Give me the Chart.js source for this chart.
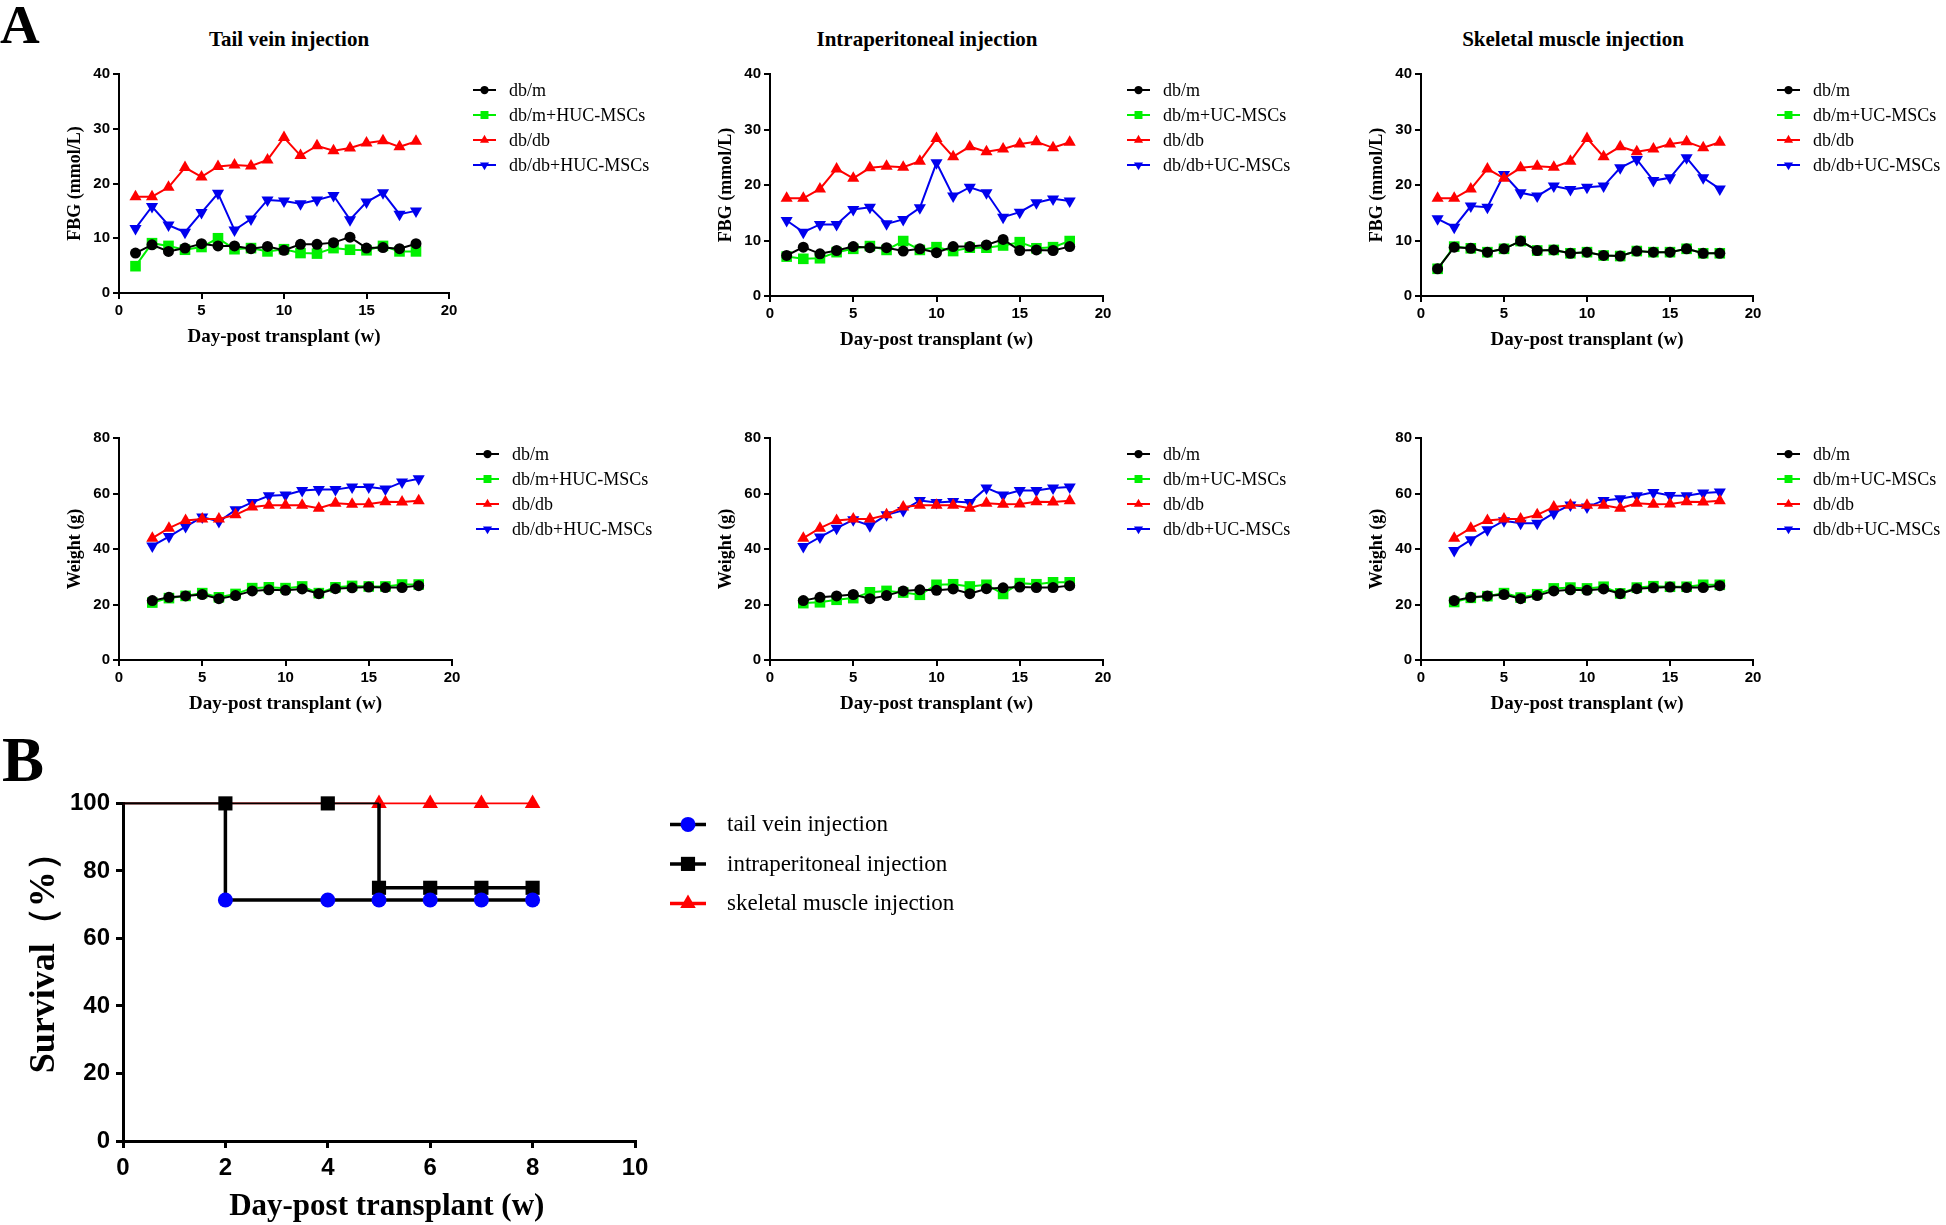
<!DOCTYPE html>
<html>
<head>
<meta charset="utf-8">
<script src="https://cdn.jsdelivr.net/npm/chart.js@4.4.1/dist/chart.umd.min.js"></script>
<style>
  body { margin: 0; background: #fff; width: 1946px; height: 1225px; position: relative; overflow: hidden; }
  canvas { position: absolute; }
  .lbl { position: absolute; font-family: 'Liberation Serif', 'Times New Roman', serif; font-weight: bold; color: #000; white-space: nowrap; line-height: 1; }
  .ttl { font-size: 21px; transform: translate(-50%, -50%); }
</style>
</head>
<body>
<div class="lbl" style="left:0px; top:-3px; font-size:55px;">A</div>
<div class="lbl" style="left:2px; top:729px; font-size:63px;">B</div>
<div class="lbl ttl" style="left:289px; top:39px;">Tail vein injection</div>
<div class="lbl ttl" style="left:927px; top:39px;">Intraperitoneal injection</div>
<div class="lbl ttl" style="left:1573px; top:39px;">Skeletal muscle injection</div>

<canvas id="fbg-tail"></canvas>
<canvas id="fbg-ip"></canvas>
<canvas id="fbg-sm"></canvas>
<canvas id="wt-tail"></canvas>
<canvas id="wt-ip"></canvas>
<canvas id="wt-sm"></canvas>
<canvas id="survival"></canvas>

<script>
// --- data ---
const weeksFbg = [1, 2, 3, 4, 5, 6, 7, 8, 9, 10, 11, 12, 13, 14, 15, 16, 17, 18];
const weeksWeight = [2, 3, 4, 5, 6, 7, 8, 9, 10, 11, 12, 13, 14, 15, 16, 17, 18];

// FBG (mmol/L); db/db control is the same group in all three panels
const fbgDbdb = [17.6, 17.6, 19.3, 22.9, 21.2, 23.1, 23.4, 23.2, 24.3, 28.4, 25.1, 26.9, 26.0, 26.5, 27.4, 27.8, 26.7, 27.7];

const fbgTailDbm = [7.3, 8.8, 7.6, 8.2, 9.0, 8.6, 8.6, 8.1, 8.5, 7.8, 8.9, 8.9, 9.2, 10.2, 8.2, 8.3, 8.1, 9.0];
const fbgTailDbmMsc = [4.9, 9.1, 8.6, 7.9, 8.4, 10.0, 8.0, 8.2, 7.6, 8.0, 7.3, 7.2, 8.2, 7.9, 7.8, 8.6, 7.6, 7.6];
const fbgTailDbdbMsc = [11.8, 15.8, 12.4, 11.1, 14.7, 18.2, 11.5, 13.5, 17.0, 16.8, 16.3, 17.0, 17.8, 13.4, 16.6, 18.3, 14.4, 15.0];

const fbgIpDbm = [7.3, 8.8, 7.6, 8.2, 8.9, 8.7, 8.7, 8.1, 8.5, 7.8, 8.9, 8.9, 9.2, 10.2, 8.2, 8.3, 8.2, 8.9];
const fbgIpDbmMsc = [7.1, 6.7, 6.8, 7.9, 8.5, 9.0, 8.3, 9.9, 8.3, 8.8, 8.1, 8.7, 8.7, 9.1, 9.7, 8.6, 8.8, 9.9];
const fbgIpDbdbMsc = [13.6, 11.5, 12.9, 12.9, 15.6, 16.0, 13.0, 13.8, 15.9, 24.0, 18.0, 19.6, 18.6, 14.2, 15.1, 16.8, 17.5, 17.1];

const fbgSmDbm = [4.9, 8.8, 8.6, 7.9, 8.5, 9.9, 8.2, 8.3, 7.7, 7.9, 7.3, 7.2, 8.1, 7.9, 7.9, 8.5, 7.7, 7.7];
const fbgSmDbmMsc = [4.9, 8.9, 8.6, 7.9, 8.5, 9.9, 8.2, 8.3, 7.7, 7.9, 7.3, 7.2, 8.1, 7.9, 7.9, 8.5, 7.7, 7.7];
const fbgSmDbdbMsc = [13.9, 12.4, 16.2, 16.0, 21.9, 18.6, 18.0, 19.8, 19.2, 19.6, 19.8, 23.1, 24.6, 20.8, 21.3, 24.9, 21.3, 19.3];

// Weight (g)
const weightDbm = [21.4, 22.6, 23.1, 23.6, 22.1, 23.2, 24.9, 25.3, 25.1, 25.6, 23.9, 25.7, 26.0, 26.3, 26.1, 26.1, 26.8];
const weightDbdb = [43.9, 47.5, 50.3, 50.8, 50.8, 52.3, 55.1, 55.8, 55.8, 55.8, 54.7, 56.5, 56.1, 56.2, 57.0, 56.9, 57.4];

const weightTailDbmMsc = [20.7, 22.3, 23.1, 24.1, 22.6, 23.8, 25.9, 26.2, 25.9, 26.5, 24.1, 26.2, 26.7, 26.5, 26.5, 27.2, 27.2];
const weightTailDbdbMsc = [41.1, 44.5, 48.1, 51.5, 49.9, 54.1, 56.8, 59.2, 59.5, 61.1, 61.4, 61.4, 62.3, 62.3, 61.6, 64.1, 65.3];

const weightIpDbmMsc = [20.5, 20.8, 21.7, 22.3, 24.4, 24.9, 24.3, 23.5, 27.1, 27.3, 26.5, 27.1, 23.8, 27.7, 27.3, 28.0, 28.0];
const weightIpDbdbMsc = [40.9, 44.3, 47.5, 50.5, 48.4, 52.3, 53.9, 57.5, 56.8, 57.1, 56.8, 62.0, 59.5, 61.1, 61.1, 62.0, 62.3];

const weightSmDbmMsc = [20.9, 22.4, 23.0, 24.1, 22.5, 23.7, 25.8, 26.1, 25.8, 26.4, 24.0, 26.1, 26.6, 26.4, 26.4, 27.1, 27.1];
const weightSmDbdbMsc = [39.5, 43.3, 46.9, 50.2, 49.3, 49.3, 52.9, 55.9, 55.1, 57.5, 58.1, 59.2, 60.4, 59.3, 59.2, 60.2, 60.5];

// Survival (%), Kaplan-Meier steps; "marked" = a symbol is drawn at that point
const survTailWeeks = [0, 2, 2, 4, 5, 6, 7, 8];
const survTail = [100, 100, 71.4, 71.4, 71.4, 71.4, 71.4, 71.4];
const survTailMarked = [false, false, true, true, true, true, true, true];
const survIpWeeks = [0, 2, 4, 5, 5, 6, 7, 8];
const survIp = [100, 100, 100, 100, 75, 75, 75, 75];
const survIpMarked = [false, true, true, false, true, true, true, true];
const survSmWeeks = [0, 5, 6, 7, 8];
const survSm = [100, 100, 100, 100, 100];
const survSmMarked = [false, true, true, true, true];

const fbgTicks = { min: 0, max: 40, step: 10 };
const weightTicks = { min: 0, max: 80, step: 20 };
const weekTicks = { min: 0, max: 20, step: 5 };
const survTicks = { min: 0, max: 100, step: 20 };
const survWeekTicks = { min: 0, max: 10, step: 2 };

// --- styles ---
const SERIF = "'Liberation Serif', 'Times New Roman', serif";
const SANS = "'Liberation Sans', Arial, sans-serif";
const NARROW = "'Liberation Sans Narrow', 'Liberation Sans', Arial, sans-serif";

const STYLE = {
    dbm:     { color: '#000000', shape: 'circle',   r: 5.5, rot: 0 },
    dbmMsc:  { color: '#00f000', shape: 'rect',     r: 7.5, rot: 0 },
    dbdb:    { color: '#ff0000', shape: 'triangle', r: 7,   rot: 0 },
    dbdbMsc: { color: '#0000ee', shape: 'triangle', r: 7,   rot: 180 },
};

function drawMarker(ctx, shape, x, y, r, rot) {
    ctx.beginPath();
    if (shape === 'circle') {
        ctx.arc(x, y, r, 0, Math.PI * 2);
    } else if (shape === 'rect') {
        const s = r * Math.SQRT1_2;
        ctx.rect(x - s, y - s, 2 * s, 2 * s);
    } else {
        let a = rot * Math.PI / 180;
        for (let k = 0; k < 3; k++) {
            const px = x + Math.sin(a) * r, py = y - Math.cos(a) * r;
            if (k) ctx.lineTo(px, py); else ctx.moveTo(px, py);
            a += 2 * Math.PI / 3;
        }
        ctx.closePath();
    }
    ctx.fill();
}

// legend to the right of the plot: short line with the symbol, then the label
const sideLegend = {
    id: 'sideLegend',
    afterDraw(chart, args, o) {
        const { ctx, chartArea } = chart;
        ctx.save();
        ctx.font = o.font;
        ctx.textBaseline = 'middle';
        chart.data.datasets.forEach((ds, i) => {
            const y = chartArea.top + o.top + i * o.gap;
            const x0 = chartArea.right + o.left;
            ctx.strokeStyle = ds.borderColor;
            ctx.lineWidth = o.lineWidth;
            ctx.beginPath();
            ctx.moveTo(x0, y);
            ctx.lineTo(x0 + o.len, y);
            ctx.stroke();
            ctx.fillStyle = ds.pointBackgroundColor;
            drawMarker(ctx, ds.pointStyle, x0 + o.len / 2, y, ds.legendR, ds.pointRotation || 0);
            ctx.fillStyle = '#000';
            ctx.fillText(ds.label, chartArea.right + o.textLeft, y + 1);
        });
        ctx.restore();
    }
};

function series(label, xs, ys, st) {
    return {
        label,
        data: xs.map((x, i) => ({ x, y: ys[i] })),
        borderColor: st.color,
        backgroundColor: st.color,
        borderWidth: 2,
        pointStyle: st.shape,
        pointRadius: st.r,
        pointRotation: st.rot,
        pointBackgroundColor: st.color,
        pointBorderColor: st.color,
        pointBorderWidth: 0,
        tension: 0,
        clip: false,
        legendR: st.r * 0.75,
    };
}

function axis(t, title, look, titleFont, fitFn) {
    return {
        type: 'linear',
        min: t.min, max: t.max,
        afterFit: fitFn,
        ticks: { stepSize: t.step, color: '#000', font: look.tickFont, padding: look.tickPad },
        grid: { drawOnChartArea: false, drawTicks: true, tickLength: look.tickLen, tickColor: '#000', tickWidth: look.lw, color: '#000', lineWidth: look.lw },
        border: { display: true, color: '#000', width: look.lw },
        title: { display: true, text: title, color: '#000', font: titleFont, padding: 0 },
    };
}

function makeChart(id, plot, lay, look, xTicks, yTicks, xTitle, yTitle, datasets, legend) {
    const cv = document.getElementById(id);
    const w = plot.r - plot.l + lay.yW + lay.padRight;
    const h = plot.b - plot.t + lay.padTop + lay.xH;
    cv.width = w; cv.height = h;
    cv.style.width = w + 'px'; cv.style.height = h + 'px';
    cv.style.left = (plot.l - lay.yW) + 'px';
    cv.style.top = (plot.t - lay.padTop) + 'px';
    return new Chart(cv.getContext('2d'), {
        type: 'line',
        data: { datasets },
        options: {
            responsive: false,
            animation: false,
            devicePixelRatio: 1,
            layout: { padding: { top: lay.padTop, right: lay.padRight, left: 0, bottom: 0 } },
            plugins: { legend: { display: false }, tooltip: { enabled: false }, sideLegend: legend },
            scales: {
                x: { ...axis(xTicks, xTitle, look, look.xTitleFont, s => { s.height = lay.xH; }), position: 'bottom' },
                y: { ...axis(yTicks, yTitle, look, look.yTitleFont, s => { s.width = lay.yW; }), position: 'left' },
            }
        },
        plugins: [sideLegend]
    });
}

const smallLook = {
    tickFont: { family: SANS, weight: 'bold', size: 15 },
    xTitleFont: { family: SERIF, weight: 'bold', size: 19 },
    yTitleFont: { family: SERIF, weight: 'bold', size: 18 },
    tickPad: 3, tickLen: 6, lw: 2,
};
const smallLegend = { font: '18px ' + SERIF, left: 24, len: 23, textLeft: 60, top: 16, gap: 25, lineWidth: 2 };

function groupSets(xs, dbm, dbmMsc, dbdb, dbdbMsc, mscName) {
    return [
        series('db/m', xs, dbm, STYLE.dbm),
        series('db/m+' + mscName, xs, dbmMsc, STYLE.dbmMsc),
        series('db/db', xs, dbdb, STYLE.dbdb),
        series('db/db+' + mscName, xs, dbdbMsc, STYLE.dbdbMsc),
    ];
}

const dayTitle = 'Day-post transplant (w)';
const topLay = { yW: 54, padTop: 20, xH: 55, padRight: 245 };
const edgeLay = { yW: 54, padTop: 20, xH: 55, padRight: 193 };

makeChart('fbg-tail', { l: 119, t: 74, r: 449, b: 293 }, topLay, smallLook, weekTicks, fbgTicks, dayTitle, 'FBG (mmol/L)',
    groupSets(weeksFbg, fbgTailDbm, fbgTailDbmMsc, fbgDbdb, fbgTailDbdbMsc, 'HUC-MSCs'), smallLegend);
makeChart('fbg-ip', { l: 770, t: 74, r: 1103, b: 296 }, topLay, smallLook, weekTicks, fbgTicks, dayTitle, 'FBG (mmol/L)',
    groupSets(weeksFbg, fbgIpDbm, fbgIpDbmMsc, fbgDbdb, fbgIpDbdbMsc, 'UC-MSCs'), smallLegend);
makeChart('fbg-sm', { l: 1421, t: 74, r: 1753, b: 296 }, edgeLay, smallLook, weekTicks, fbgTicks, dayTitle, 'FBG (mmol/L)',
    groupSets(weeksFbg, fbgSmDbm, fbgSmDbmMsc, fbgDbdb, fbgSmDbdbMsc, 'UC-MSCs'), smallLegend);

makeChart('wt-tail', { l: 119, t: 438, r: 452, b: 660 }, topLay, smallLook, weekTicks, weightTicks, dayTitle, 'Weight (g)',
    groupSets(weeksWeight, weightDbm, weightTailDbmMsc, weightDbdb, weightTailDbdbMsc, 'HUC-MSCs'), smallLegend);
makeChart('wt-ip', { l: 770, t: 438, r: 1103, b: 660 }, topLay, smallLook, weekTicks, weightTicks, dayTitle, 'Weight (g)',
    groupSets(weeksWeight, weightDbm, weightIpDbmMsc, weightDbdb, weightIpDbdbMsc, 'UC-MSCs'), smallLegend);
makeChart('wt-sm', { l: 1421, t: 438, r: 1753, b: 660 }, edgeLay, smallLook, weekTicks, weightTicks, dayTitle, 'Weight (g)',
    groupSets(weeksWeight, weightDbm, weightSmDbmMsc, weightDbdb, weightSmDbdbMsc, 'UC-MSCs'), smallLegend);

// --- survival panel ---
const thinTop = c => (c.p0.parsed.y === 100 && c.p1.parsed.y === 100) ? 1.6 : 3.5;

function survSeries(label, xs, ys, marked, lineColor, markColor, shape, r) {
    return {
        label,
        data: xs.map((x, i) => ({ x, y: ys[i] })),
        borderColor: lineColor,
        borderWidth: 3.5,
        segment: { borderWidth: thinTop },
        pointStyle: shape,
        pointRadius: c => marked[c.dataIndex] ? r : 0,
        pointBackgroundColor: markColor,
        pointBorderColor: markColor,
        pointBorderWidth: 0,
        tension: 0,
        clip: false,
        legendR: r,
    };
}

makeChart('survival', { l: 123, t: 803, r: 635, b: 1141 }, { yW: 100, padTop: 20, xH: 85, padRight: 365 },
    {
        tickFont: { family: NARROW, weight: 'bold', size: 24 },
        xTitleFont: { family: SERIF, weight: 'bold', size: 31 },
        yTitleFont: { family: SERIF, weight: 'bold', size: 36 },
        tickPad: 6, tickLen: 7, lw: 3,
    },
    survWeekTicks, survTicks, '  ' + dayTitle, '\u3000Survival（%）',
    [
        survSeries('tail vein injection', survTailWeeks, survTail, survTailMarked, '#000000', '#0000ff', 'circle', 7.5),
        survSeries('intraperitoneal injection', survIpWeeks, survIp, survIpMarked, '#000000', '#000000', 'rect', 10),
        survSeries('skeletal muscle injection', survSmWeeks, survSm, survSmMarked, '#ff0000', '#ff0000', 'triangle', 9),
    ],
    { font: '23px ' + SERIF, left: 35, len: 36, textLeft: 92, top: 21, gap: 39.5, lineWidth: 3.5 });
</script>
</body>
</html>
